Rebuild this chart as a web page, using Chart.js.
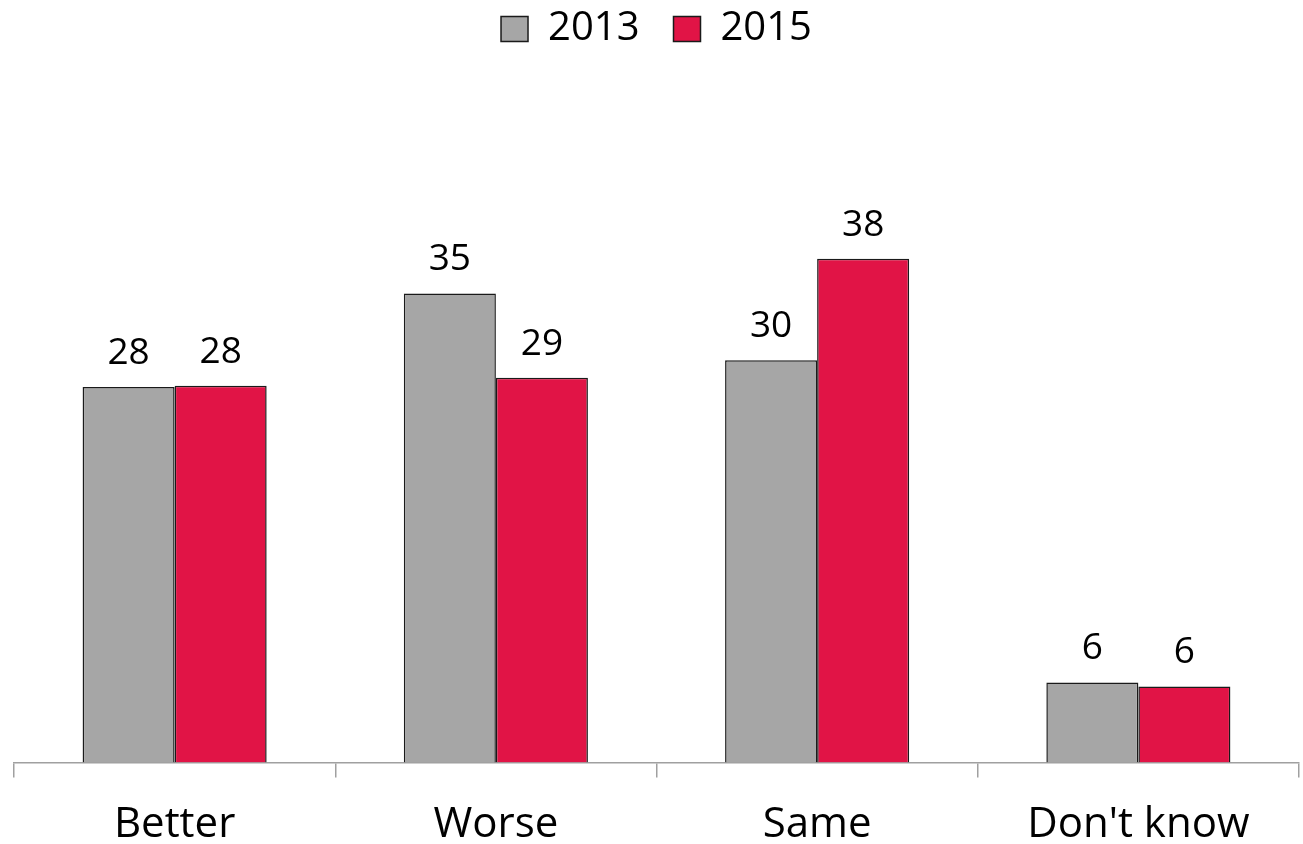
<!DOCTYPE html>
<html>
<head>
<meta charset="utf-8">
<script src="https://cdn.jsdelivr.net/npm/chart.js@4.4.1/dist/chart.umd.min.js"></script>
<style>
  html, body { margin: 0; padding: 0; background: #fff; }
  #wrap { width: 1303px; height: 844px; }
</style>
</head>
<body>
<div id="wrap"><canvas id="grafico"></canvas></div>
<script>
const categorias = ['Better', 'Worse', 'Same', "Don't know"];
const valores2013 = [28.1, 35.1, 30.1, 6.0];
const valores2015 = [28.2, 28.8, 37.7, 5.7];
const nomesSeries = ['2013', '2015'];
const yMax = 40;

const fonte = "'Open Sans', 'Noto Sans', sans-serif";

// rotulos em cima das barras
const rotulosPlugin = {
  id: 'rotulos',
  afterDatasetsDraw(chart) {
    const ctx = chart.ctx;
    ctx.save();
    ctx.font = '37px ' + fonte;
    ctx.fillStyle = '#000';
    ctx.textAlign = 'center';
    ctx.textBaseline = 'alphabetic';
    chart.data.datasets.forEach((ds, i) => {
      chart.getDatasetMeta(i).data.forEach((bar, j) => {
        ctx.fillText(Math.round(ds.data[j]), bar.x, bar.y - 23);
      });
    });
    ctx.restore();
  }
};

// altura fixa da legenda para posicionar a area do grafico
const legendaAltura = {
  id: 'legendaAltura',
  beforeInit(chart) {
    const fitOriginal = chart.legend.fit;
    chart.legend.fit = function () {
      fitOriginal.call(this);
      this.height = 253;
    };
  }
};

new Chart(document.getElementById('grafico'), {
  type: 'bar',
  data: {
    labels: categorias,
    datasets: [
      {
        label: nomesSeries[0],
        data: valores2013,
        backgroundColor: '#a6a6a6',
        borderColor: '#1a1a1a',
        borderWidth: 1.5,
        categoryPercentage: 0.573,
        barPercentage: 1
      },
      {
        label: nomesSeries[1],
        data: valores2015,
        backgroundColor: '#e11446',
        borderColor: '#1a1a1a',
        borderWidth: 1.5,
        categoryPercentage: 0.573,
        barPercentage: 1
      }
    ]
  },
  options: {
    responsive: true,
    maintainAspectRatio: false,
    animation: false,
    layout: { padding: { left: 14, right: 4, top: -25, bottom: -28 } },
    plugins: {
      tooltip: { enabled: false },
      legend: {
        display: true,
        position: 'top',
        labels: {
          boxWidth: 27,
          boxHeight: 25,
          padding: 34,
          color: '#000',
          font: { family: fonte, size: 40 }
        }
      }
    },
    scales: {
      x: {
        offset: true,
        border: { display: true, color: '#a0a0a0', width: 1.5 },
        grid: {
          offset: true,
          drawOnChartArea: false,
          drawTicks: true,
          tickLength: 15,
          color: '#a0a0a0',
          lineWidth: 1.5
        },
        ticks: {
          color: '#000',
          padding: 22,
          font: { family: fonte, size: 42 }
        }
      },
      y: {
        display: false,
        min: 0,
        max: yMax
      }
    }
  },
  plugins: [rotulosPlugin, legendaAltura]
});
</script>
</body>
</html>
